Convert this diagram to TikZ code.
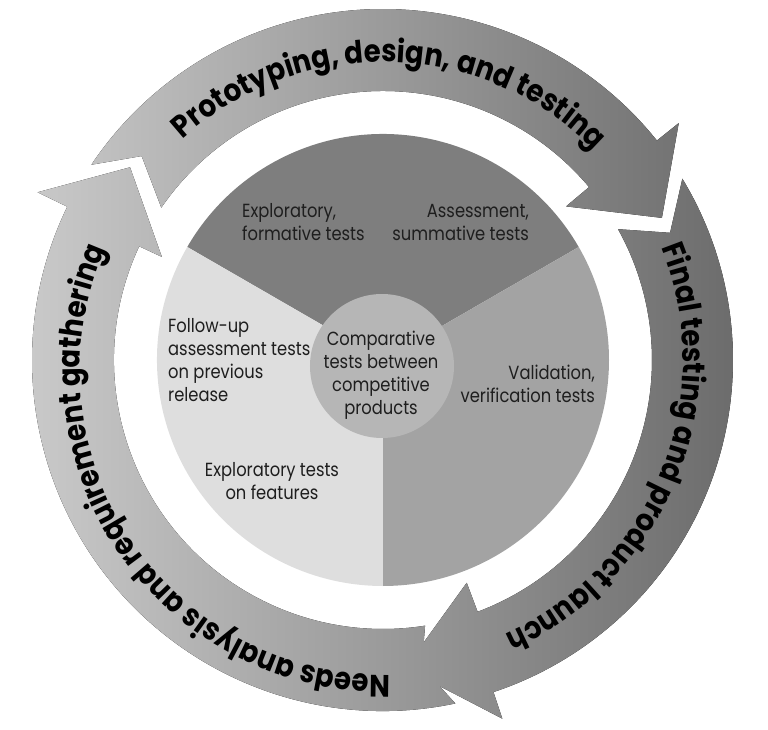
\documentclass[tikz,border=0pt]{standalone}
\usepackage{fontspec}
\setmainfont{Poppins}[FakeStretch=0.86]
\newfontfamily\ringfont{Poppins}[FakeStretch=0.89]
\usetikzlibrary{decorations.text}
\definecolor{secT}{HTML}{7E7E7E}
\definecolor{secR}{HTML}{A3A3A3}
\definecolor{secL}{HTML}{DEDEDE}
\definecolor{hub}{HTML}{B6B6B6}
\definecolor{ringL}{HTML}{CACACA}
\definecolor{ringR}{HTML}{6A6A6A}
\definecolor{txt}{HTML}{1E1E1E}
\begin{document}
\begin{tikzpicture}[x=1pt,y=1pt,
  inner/.style={font=\fontsize{19}{23.3}\selectfont, text=txt, inner sep=0pt}]
\useasboundingbox (-383,-370) rectangle (385,360);
% pie
\fill[secT] (0,0) -- (30:226) arc[start angle=30, end angle=150, radius=226] -- cycle;
\fill[secL] (0,0) -- (150:226) arc[start angle=150, end angle=270, radius=226] -- cycle;
\fill[secR] (0,0) -- (270:226) arc[start angle=270, end angle=390, radius=226] -- cycle;
\fill[hub] (-1,-6) circle[radius=72];
% ring arrows
\fill[left color=ringL, right color=ringR]
  (146.2:351) arc[start angle=146.2, end angle=38.7, radius=351] -- (38.7:379) -- (27:313) -- (40:239) -- (40:269) arc[start angle=40, end angle=145.5, radius=269] -- (139.8:316) -- cycle
  (31.2:350) arc[start angle=31.2, end angle=-71.6, radius=350] -- (-71.6:378) -- (-85.9:309) -- (-69.4:238) -- (-69.4:269) arc[start angle=-69.4, end angle=29.1, radius=269] -- (23.9:314) -- cycle
  (-78.1:351) arc[start angle=-78.1, end angle=-205.9, radius=351] -- (-205.9:384) -- (-217.3:318) -- (-205:244) -- (-205:269) arc[start angle=-205, end angle=-81, radius=269] -- (-82.8:309) -- cycle;
% ring texts
\path[decorate, decoration={text along path, text align=center,
  text={|\ringfont\bfseries\fontsize{31}{31}\selectfont|Prototyping, design, and testing}}]
  (163.5:298) arc[start angle=163.5, end angle=13.5, radius=298];
\path[decorate, decoration={text along path, text align=center,
  text={|\ringfont\bfseries\fontsize{31}{31}\selectfont|Final testing and product launch}}]
  (53:300) arc[start angle=53, end angle=-97, radius=300];
\path[decorate, decoration={text along path, text align=center,
  text={|\ringfont\bfseries\fontsize{31}{31}\selectfont|Needs analysis and requirement gathering}}]
  ([shift={(0,-12)}]293.7:303) arc[start angle=293.7, end angle=133.7, radius=303];
% inner texts
\node[inner, align=left, anchor=base west] (expl) at (-141,119) {Exploratory,\\formative tests};
\node[inner, align=right, anchor=base east] (assess) at (146,119) {Assessment,\\summative tests};
\node[inner, align=left, anchor=base west] (follow) at (-215,-42) {Follow-up\\assessment tests\\on previous\\release};
\node[inner, align=center, anchor=base] (comp) at (-2,-55) {Comparative\\tests between\\competitive\\products};
\node[inner, align=right, anchor=base east] (valid) at (212,-43) {Validation,\\verification tests};
\node[inner, align=center, anchor=base] (feat) at (-111,-140) {Exploratory tests\\on features};
\end{tikzpicture}
\end{document}
